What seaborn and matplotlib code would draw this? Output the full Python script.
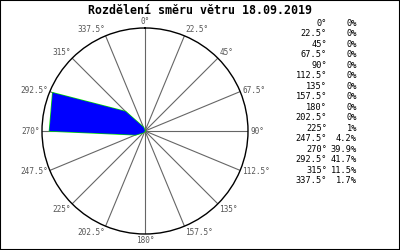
import numpy as np
import matplotlib
matplotlib.use("Agg")
import matplotlib.pyplot as plt
import seaborn as sns
from matplotlib.patches import Rectangle

sns.set_style("white")
plt.rcParams['font.family'] = ['DejaVu Sans Mono', 'DejaVu Sans']

title = "Rozdělení směru větru 18.09.2019"
directions = [0, 22.5, 45, 67.5, 90, 112.5, 135, 157.5, 180, 202.5, 225, 247.5, 270, 292.5, 315, 337.5]
dir_labels = ["0°", "22.5°", "45°", "67.5°", "90°", "112.5°", "135°", "157.5°", "180°",
              "202.5°", "225°", "247.5°", "270°", "292.5°", "315°", "337.5°"]
percent = [0, 0, 0, 0, 0, 0, 0, 0, 0, 0, 1, 4.2, 39.9, 41.7, 11.5, 1.7]
pct_labels = ["0%", "0%", "0%", "0%", "0%", "0%", "0%", "0%", "0%", "0%", "1%", "4.2%",
              "39.9%", "41.7%", "11.5%", "1.7%"]

W, H = 400, 250
fig = plt.figure(figsize=(W / 100, H / 100), dpi=100)
fig.patch.set_facecolor("white")

cx, cy, R = 145, 131, 103
ax = fig.add_axes([(cx - R) / W, (H - cy - R) / H, 2 * R / W, 2 * R / H], projection="polar")
ax.set_theta_zero_location("N")
ax.set_theta_direction(-1)
rmax = 43.0
ax.set_ylim(0, rmax)

theta = np.radians(directions)
ax.set_xticks(theta)
ax.set_xticklabels([])
ax.set_yticks([])
ax.xaxis.grid(True, color="#666666", lw=0.8)
ax.yaxis.grid(False)
ax.spines["polar"].set_color("black")
ax.spines["polar"].set_linewidth(1.0)

t_closed = np.append(theta, theta[0])
p_closed = np.append(percent, percent[0])
ax.plot(t_closed, p_closed, color="#00dd00", lw=1.0, zorder=2)
ax.fill(t_closed, p_closed, color="#0000ff", lw=0, zorder=3)

for t, lab in zip(theta, dir_labels):
    s, c = np.sin(t), np.cos(t)
    ha = "left" if s > 0.01 else ("right" if s < -0.01 else "center")
    va = "bottom" if c > 0.5 else ("top" if c < -0.5 else "center")
    ax.text(t, rmax * 1.02, lab, ha=ha, va=va, fontsize=5.6, color="#555555",
            clip_on=False)

fig.text(0.5, 1 - 10 / H, title, ha="center", va="center", fontsize=8.4,
         fontweight="bold", color="black")

y0, dy = 23, 10.53
for i, (dl, pl) in enumerate(zip(dir_labels, pct_labels)):
    y = 1 - (y0 + i * dy) / H
    fig.text(327 / W, y, dl, ha="right", va="center", fontsize=6.2, color="black")
    fig.text(357 / W, y, pl, ha="right", va="center", fontsize=6.2, color="black")

fig.patches.append(Rectangle((0, 0), 1, 1, transform=fig.transFigure, fill=False,
                             edgecolor="black", lw=1.5, zorder=10))

fig.savefig("out.png", dpi=100)
